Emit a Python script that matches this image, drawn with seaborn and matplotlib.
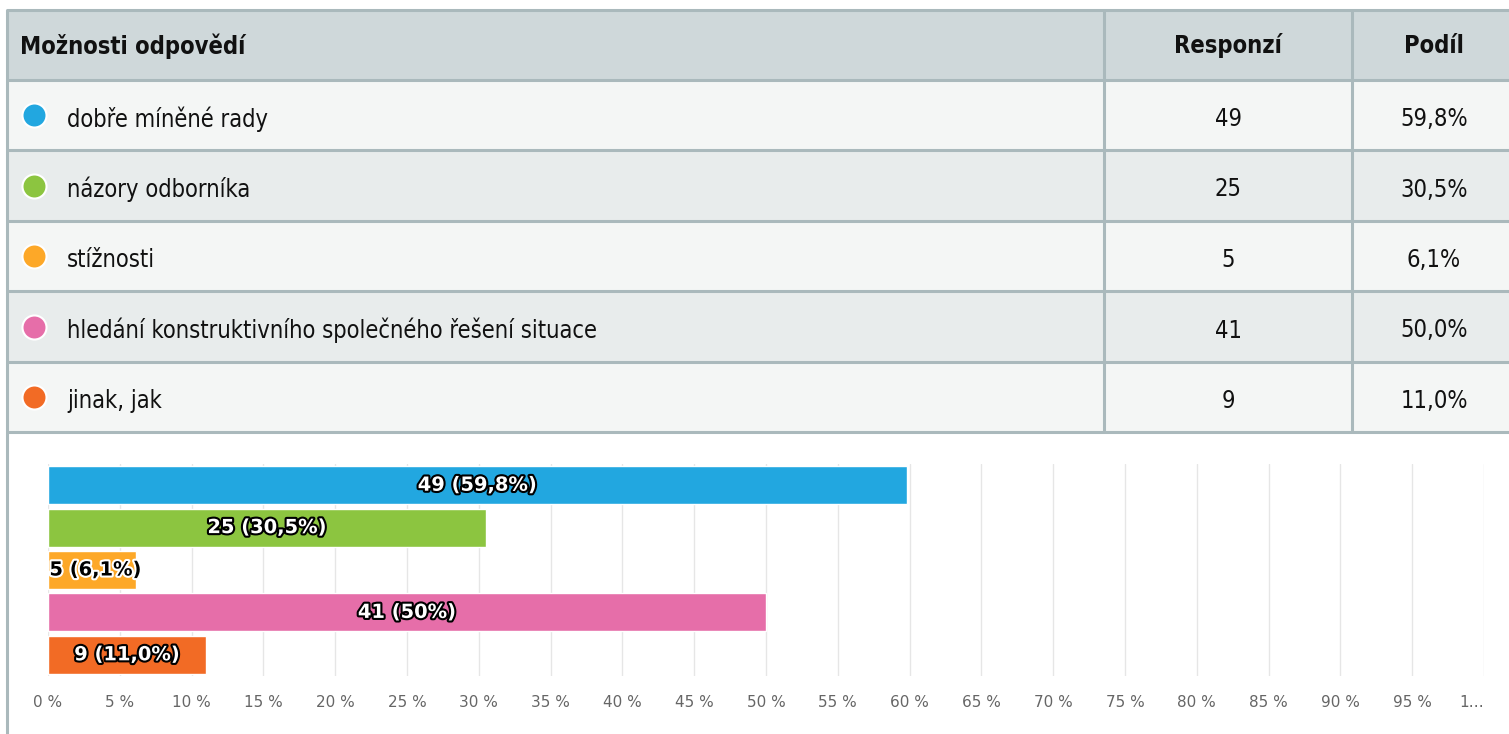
import matplotlib
matplotlib.use("Agg")
import matplotlib.pyplot as plt
import matplotlib.patheffects as pe
from matplotlib.patches import Rectangle
import seaborn as sns

# data
categories = ["dobře míněné rady", "názory odborníka", "stížnosti",
              "hledání konstruktivního společného řešení situace", "jinak, jak"]
counts = [49, 25, 5, 41, 9]
shares = [59.8, 30.5, 6.1, 50.0, 11.0]
bar_labels = ["49 (59,8%)", "25 (30,5%)", "5 (6,1%)", "41 (50%)", "9 (11,0%)"]
colors = ["#22A7E0", "#8CC540", "#FDA828", "#E66EA9", "#F26B25"]
tick_vals = list(range(0, 101, 5))
tick_text = [f"{v} %" for v in tick_vals[:-1]] + ["1…"]
headers = ["Možnosti odpovědí", "Responzí", "Podíl"]

sns.set_style("white")
W, H = 1509, 734
fig = plt.figure(figsize=(W / 100, H / 100), dpi=100)

tfont = dict(family="DejaVu Sans", fontstretch="condensed", fontsize=17, color="#111111")
border = "#AAB9BC"

# table drawn in pixel coords on a background axes
bg = fig.add_axes([0, 0, 1, 1])
bg.set_xlim(0, W)
bg.set_ylim(H, 0)
bg.axis("off")

row_edges = [10, 80, 150, 221, 291, 362, 432]
bg.add_patch(Rectangle((7, 10), W, 70, color="#CFD8DA", lw=0))
for i in range(5):
    fc = "#F4F6F5" if i % 2 == 0 else "#E8ECEC"
    bg.add_patch(Rectangle((7, row_edges[i + 1]), W, row_edges[i + 2] - row_edges[i + 1], color=fc, lw=0))
for y in row_edges:
    bg.plot([7, W], [y, y], color=border, lw=2.2, solid_capstyle="butt")
bg.plot([7, 7], [10, H], color=border, lw=2.2)
for x in [1104, 1352]:
    bg.plot([x, x], [10, 432], color=border, lw=2.2)

bg.text(20, 46, headers[0], fontweight="bold", va="center", ha="left", **tfont)
bg.text(1228, 46, headers[1], fontweight="bold", va="center", ha="center", **tfont)
bg.text(1434, 46, headers[2], fontweight="bold", va="center", ha="center", **tfont)

for i, (cat, c, s, col) in enumerate(zip(categories, counts, shares, colors)):
    yc = (row_edges[i + 1] + row_edges[i + 2]) / 2 + 4
    bg.scatter([34], [yc - 4], s=300, color=col, edgecolor="white", linewidth=1.5, zorder=3)
    bg.text(67, yc, cat, va="center", ha="left", **tfont)
    bg.text(1228, yc, str(c), va="center", ha="center", **tfont)
    bg.text(1434, yc, f"{s:.1f}%".replace(".", ","), va="center", ha="center", **tfont)

# bar chart
ax = fig.add_axes([48 / W, (H - 676) / H, (1484 - 48) / W, (676 - 464) / H])
ax.set_facecolor("none")
sns.barplot(x=shares, y=categories, hue=categories, palette=colors, orient="h",
            legend=False, width=0.9, edgecolor="white", linewidth=1, saturation=1, ax=ax)
ax.set_xlim(0, 100)
ax.set_ylim(4.5, -0.5)
ax.set_xticks(tick_vals)
ax.set_xticklabels(tick_text, fontsize=11, color="#666666")
ax.tick_params(axis="x", length=0, pad=14)
ax.get_xticklabels()[-1].set_ha("right")
ax.set_yticks([0, 2.5])
ax.set_yticklabels(["", ""])
ax.tick_params(axis="y", length=9.5, color="#CCD6EB", width=1)
ax.xaxis.grid(True, color="#E6E6E6", lw=1)
ax.set_axisbelow(True)
for sp in ax.spines.values():
    sp.set_visible(False)
ax.set_xlabel("")
ax.set_ylabel("")

for i, (s, lab) in enumerate(zip(shares, bar_labels)):
    if s < 8:
        ax.text(0.1, i, lab, ha="left", va="center", fontsize=14, fontweight="bold", color="black",
                path_effects=[pe.withStroke(linewidth=3, foreground="white")])
    else:
        ax.text(s / 2, i, lab, ha="center", va="center", fontsize=14, fontweight="bold", color="white",
                path_effects=[pe.withStroke(linewidth=3, foreground="black")])

fig.savefig("out.png", dpi=100)
